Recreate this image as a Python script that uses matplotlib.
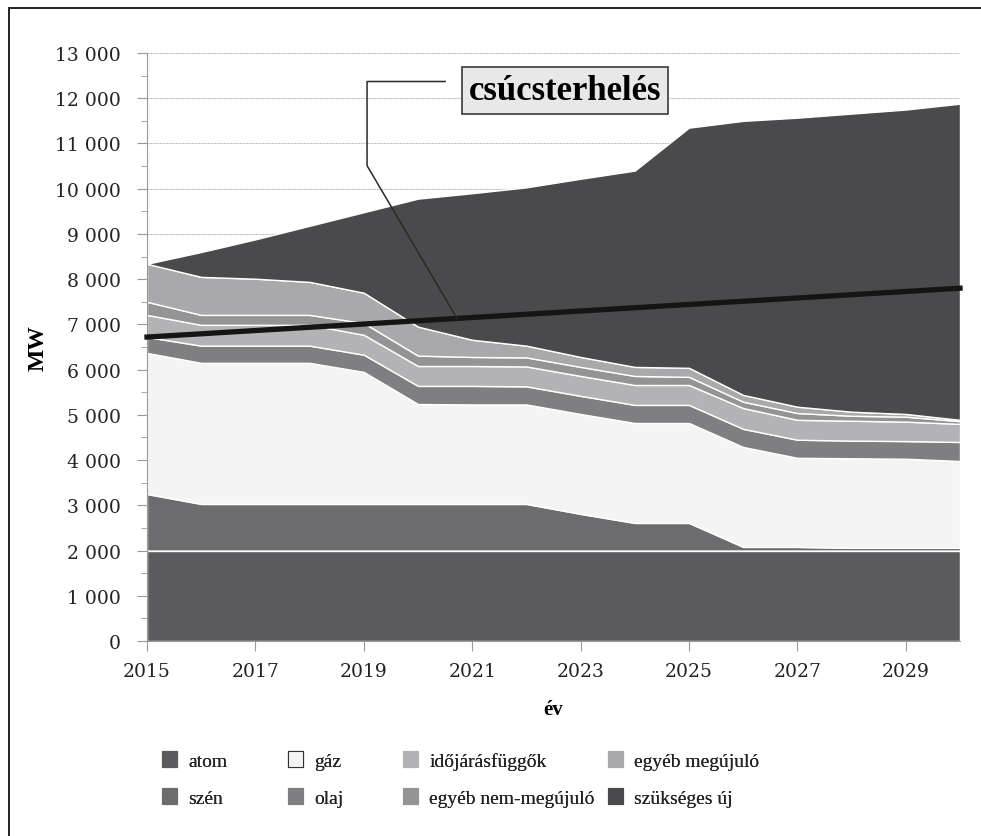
import numpy as np
import matplotlib.pyplot as plt
from matplotlib.patches import Patch, Rectangle
from matplotlib.ticker import FuncFormatter, MultipleLocator

years = list(range(2015, 2031))

# layer thicknesses in MW, bottom to top
atom = [2000] * 16
szen = [1250, 1030, 1030, 1030, 1030, 1030, 1030, 1030, 810, 610, 610, 80, 80, 60, 60, 60]
gaz = [3120, 3120, 3120, 3120, 2920, 2210, 2200, 2200, 2210, 2210, 2210, 2210, 1970, 1980, 1970, 1920]
olaj = [350, 380, 380, 380, 380, 400, 410, 400, 400, 400, 400, 400, 400, 390, 390, 420]
idojaras = [490, 460, 460, 460, 440, 440, 440, 440, 440, 440, 440, 460, 440, 440, 430, 400]
egyeb_nem = [290, 220, 220, 220, 260, 230, 200, 200, 200, 200, 180, 140, 150, 110, 110, 60]
egyeb_meg = [840, 840, 800, 730, 670, 640, 380, 260, 220, 200, 200, 150, 140, 90, 60, 30]
szukseges = [0, 550, 870, 1240, 1780, 2830, 3240, 3500, 3940, 4340, 5310, 6060, 6390, 6590, 6730, 6990]

peak_years = [2015, 2030]
peak_load = [6720, 7800]

names = ['atom', 'szén', 'gáz', 'olaj', 'időjárásfüggők', 'egyéb nem-megújuló',
         'egyéb megújuló', 'szükséges új']
colors = ['#5b5b5d', '#6c6c6e', '#f4f4f4', '#7f7f81', '#b3b3b5', '#949496',
          '#a9a9ab', '#4a4a4c']

fig = plt.figure(figsize=(9.81, 8.37), dpi=100)
ax = fig.add_axes([147 / 981, 1 - 642 / 837, (960 - 147) / 981, (642 - 54) / 837])

ax.stackplot(years, atom, szen, gaz, olaj, idojaras, egyeb_nem, egyeb_meg, szukseges,
             colors=colors, edgecolor='white', linewidth=1.0, zorder=2)

ax.plot(peak_years, peak_load, color='#151515', lw=3.8, zorder=4,
        clip_on=False, solid_capstyle='projecting')

ax.set_xlim(2015, 2030)
ax.set_ylim(0, 13000)
ax.set_xticks(range(2015, 2030, 2))
ax.yaxis.set_major_locator(MultipleLocator(1000))
ax.yaxis.set_minor_locator(MultipleLocator(500))
ax.yaxis.set_major_formatter(FuncFormatter(lambda v, p: f'{int(v):,}'.replace(',', ' ')))

ax.set_axisbelow(True)
ax.grid(axis='y', which='major', color='#b5b5b5', lw=0.8, ls=(0, (1, 0.6)), zorder=0)
for s in ['top', 'right']:
    ax.spines[s].set_visible(False)
for s in ['left', 'bottom']:
    ax.spines[s].set_color('#999999')
ax.tick_params(which='both', direction='out', color='#999999', labelcolor='#222222',
               labelsize=13.5)
ax.tick_params(which='major', length=7)
ax.tick_params(which='minor', length=4)
ax.tick_params(axis='x', pad=8)
ax.tick_params(axis='y', pad=12)
for lab in ax.get_xticklabels() + ax.get_yticklabels():
    lab.set_family('DejaVu Serif')

ax.set_ylabel('MW', family='Liberation Serif', fontweight='bold', fontsize=17)
ax.yaxis.set_label_coords(-0.121, 0.5)
ax.set_xlabel('év', family='Liberation Serif', fontweight='bold', fontsize=15, labelpad=14)

# callout
ax.text(2022.71, 12170, 'csúcsterhelés', ha='center', va='center', fontsize=25,
        fontweight='bold', family='Liberation Serif', zorder=6,
        bbox=dict(boxstyle='square,pad=0.2', fc='#e8e8e8', ec='#3a3a3a', lw=1.2))
xend = 2020.72
yend = np.interp(xend, peak_years, peak_load)
ax.plot([2020.5, 2019.06, 2019.06, xend], [12370, 12370, 10510, yend],
        color='#2a2a2a', lw=1.1, zorder=5)

# legend, one column at a time
col_x = [162 / 981, 288 / 981, 403 / 981, 608 / 981]
handles = [Patch(fc=c, ec='#333333' if n == 'gáz' else c, lw=0.8) for c, n in zip(colors, names)]
for i in range(4):
    order = [[0, 1], [2, 3], [4, 5], [6, 7]][i]
    leg = fig.legend([handles[k] for k in order], [names[k] for k in order],
                     loc='upper left', bbox_to_anchor=(col_x[i], 1 - 752 / 837),
                     frameon=False, fontsize=14,
                     handlelength=0.75, handleheight=0.9, handletextpad=0.6,
                     labelspacing=0.95, borderaxespad=0, borderpad=0)
    for t in leg.get_texts():
        t.set_family('Liberation Serif')
        t.set_color('#222222')
    fig.add_artist(leg)

fig.add_artist(Rectangle((9 / 981, -0.05), 1.2, 1 - 9 / 837 + 0.05,
                         transform=fig.transFigure, fill=False, ec='#111111', lw=1.3))

fig.savefig('out.png', dpi=100, facecolor='white')
